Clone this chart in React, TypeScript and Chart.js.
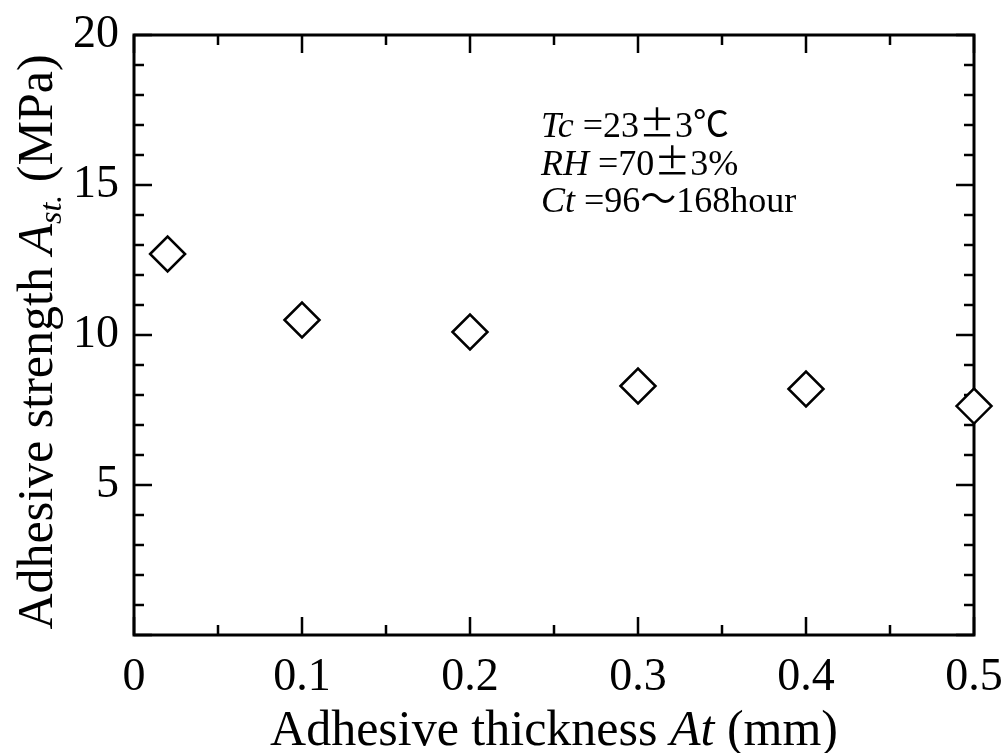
import React, { useEffect, useRef } from 'react';
import { Chart, registerables } from 'chart.js';

Chart.register(...registerables);

const thicknessMm = [0.02, 0.1, 0.2, 0.3, 0.4, 0.5];
const strengthMPa = [12.7, 10.5, 10.1, 8.3, 8.2, 7.63];

const xMajorTicks = [0, 0.1, 0.2, 0.3, 0.4, 0.5];
const xMinorTicks = [0.05, 0.15, 0.25, 0.35, 0.45];
const yMajorTicks = [0, 5, 10, 15, 20];
const yMinorTicks = [1, 2, 3, 4, 6, 7, 8, 9, 11, 12, 13, 14, 16, 17, 18, 19];

const xTitleParts: [string, boolean][] = [
  ['Adhesive thickness ', false],
  ['At', true],
  [' (mm)', false],
];
// [text, style]: 'i' italic serif, 'r' roman serif, 'w' full-width glyph
const conditionLines: [string, string][][] = [
  [['Tc', 'i'], [' =23', 'r'], ['\u00b1', 'w'], ['3', 'r'], ['\u2103', 'w']],
  [['RH', 'i'], [' =70', 'r'], ['\u00b1', 'w'], ['3%', 'r']],
  [['Ct', 'i'], [' =96', 'r'], ['\uff5e', 'w'], ['168hour', 'r']],
];

const SERIF = '"Liberation Serif", "Times New Roman", serif';
const CJK = '"Noto Sans CJK JP", "Noto Sans CJK SC", "Liberation Serif", serif';

const framePlugin = {
  id: 'framePlugin',
  beforeDatasetsDraw(chart: any) {
    const { ctx, chartArea, scales } = chart;
    const { left, right, top, bottom } = chartArea;
    const xs = scales.x;
    const ys = scales.y;
    ctx.save();
    ctx.strokeStyle = '#000';
    ctx.lineWidth = 3;
    ctx.strokeRect(left, top, right - left, bottom - top);
    ctx.lineWidth = 2.5;
    const major = 18;
    const minor = 10;
    ctx.beginPath();
    const xt = (v: number, len: number) => {
      const p = xs.getPixelForValue(v);
      ctx.moveTo(p, bottom);
      ctx.lineTo(p, bottom - len);
      ctx.moveTo(p, top);
      ctx.lineTo(p, top + len);
    };
    const yt = (v: number, len: number) => {
      const p = ys.getPixelForValue(v);
      ctx.moveTo(left, p);
      ctx.lineTo(left + len, p);
      ctx.moveTo(right, p);
      ctx.lineTo(right - len, p);
    };
    xMajorTicks.forEach((v) => xt(v, major));
    xMinorTicks.forEach((v) => xt(v, minor));
    yMajorTicks.forEach((v) => yt(v, major));
    yMinorTicks.forEach((v) => yt(v, minor));
    ctx.stroke();
    ctx.restore();
  },
  afterDraw(chart: any) {
    const { ctx, chartArea } = chart;
    const { left, right, top, bottom } = chartArea;
    ctx.save();
    ctx.fillStyle = '#000';
    ctx.textBaseline = 'alphabetic';
    ctx.textAlign = 'left';

    const fontFor = (italic: boolean, size: number) =>
      `${italic ? 'italic ' : ''}${size}px ${SERIF}`;

    // X title
    const xs = 50;
    let total = 0;
    xTitleParts.forEach(([t, it]) => {
      ctx.font = fontFor(it, xs);
      total += ctx.measureText(t).width;
    });
    let cx = (left + right) / 2 - total / 2;
    xTitleParts.forEach(([t, it]) => {
      ctx.font = fontFor(it, xs);
      ctx.fillText(t, cx, bottom + 110);
      cx += ctx.measureText(t).width;
    });

    // Y title (rotated)
    const ySegs: [string, boolean, number, number][] = [
      ['Adhesive strength ', false, 50, 0],
      ['A', true, 50, 0],
      ['st.', true, 32, 9],
      [' (MPa)', false, 50, 0],
    ];
    let ytot = 0;
    ySegs.forEach(([t, it, sz]) => {
      ctx.font = fontFor(it, sz);
      ytot += ctx.measureText(t).width;
    });
    ctx.save();
    ctx.translate(52, (top + bottom) / 2 + 7);
    ctx.rotate(-Math.PI / 2);
    let yx = -ytot / 2;
    ySegs.forEach(([t, it, sz, off]) => {
      ctx.font = fontFor(it, sz);
      ctx.fillText(t, yx, off);
      yx += ctx.measureText(t).width;
    });
    ctx.restore();

    // Conditions annotation
    const as = 36;
    const baseX = left + 407;
    const baselines = [top + 102, top + 140, top + 177];
    conditionLines.forEach((line, i) => {
      let x = baseX;
      line.forEach(([t, st]) => {
        if (st === 'w') {
          ctx.font = `${as}px ${CJK}`;
          const w = ctx.measureText(t).width;
          const box = as;
          ctx.fillText(t, x + (box - w) / 2, baselines[i]);
          x += box;
        } else {
          ctx.font = fontFor(st === 'i', as);
          ctx.fillText(t, x, baselines[i]);
          x += ctx.measureText(t).width;
        }
      });
    });
    ctx.restore();
  },
};

export default function App() {
  const ref = useRef<HTMLCanvasElement | null>(null);
  useEffect(() => {
    if (!ref.current) return;
    const chart = new Chart(ref.current, {
      type: 'scatter',
      data: {
        datasets: [
          {
            label: 'Adhesive strength',
            data: thicknessMm.map((x, i) => ({ x, y: strengthMPa[i] })),
            pointStyle: 'rectRot',
            pointRadius: 17.5,
            pointHoverRadius: 17.5,
            pointBorderWidth: 2.5,
            pointBorderColor: '#000',
            pointBackgroundColor: '#fff',
            clip: false,
          } as any,
        ],
      },
      options: {
        animation: false,
        responsive: false,
        maintainAspectRatio: false,
        events: [],
        layout: { padding: { left: 0, top: 35, right: 34, bottom: 0 } },
        plugins: {
          legend: { display: false },
          tooltip: { enabled: false },
        },
        scales: {
          x: {
            type: 'linear',
            min: 0,
            max: 0.5,
            grid: { display: false, drawTicks: false },
            border: { display: false },
            ticks: {
              stepSize: 0.1,
              padding: 15,
              color: '#000',
              font: { family: SERIF, size: 46 },
              maxRotation: 0,
              callback: (v: any) => String(Number(Number(v).toFixed(1))),
            },
            afterFit: (s: any) => {
              s.height = 753 - 635;
              s.paddingLeft = 0;
              s.paddingRight = 0;
            },
          },
          y: {
            type: 'linear',
            min: 0,
            max: 20,
            grid: { display: false, drawTicks: false },
            border: { display: false },
            ticks: {
              stepSize: 5,
              padding: 15,
              color: '#000',
              font: { family: SERIF, size: 46 },
              callback: (v: any) => (Number(v) === 0 ? '' : String(v)),
            },
            afterFit: (s: any) => {
              s.width = 134;
              s.paddingTop = 0;
              s.paddingBottom = 0;
            },
          },
        },
      },
      plugins: [framePlugin],
    });
    return () => chart.destroy();
  }, []);
  return (
    <div style={{ position: 'fixed', left: 0, top: 0, width: 1008, height: 753, background: '#fff' }}>
      <canvas ref={ref} width={1008} height={753} style={{ width: 1008, height: 753, display: 'block' }} />
    </div>
  );
}
